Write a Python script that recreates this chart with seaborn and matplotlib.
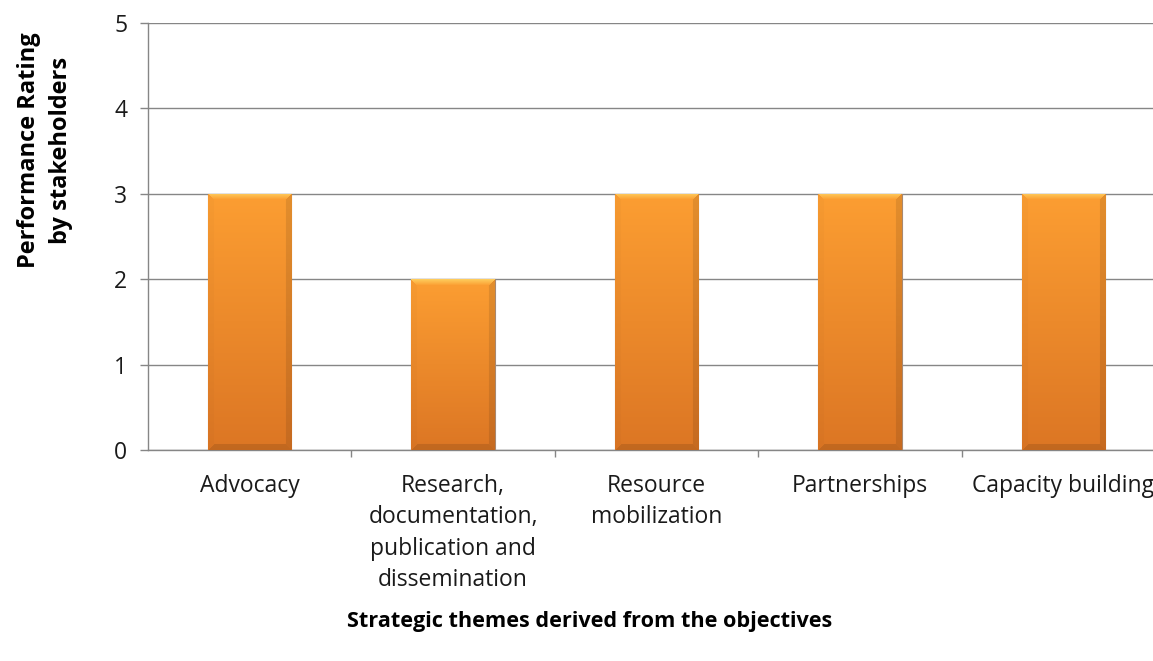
import numpy as np
import pandas as pd
import matplotlib
matplotlib.use("Agg")
import matplotlib.pyplot as plt
import seaborn as sns

themes = ["Advocacy",
          "Research,\ndocumentation,\npublication and\ndissemination",
          "Resource\nmobilization",
          "Partnerships",
          "Capacity building"]
ratings = [3, 2, 3, 3, 3]
y_ticks = [0, 1, 2, 3, 4, 5]
y_title = "Performance Rating\nby stakeholders"
x_title = "Strategic themes derived from the objectives"

sns.set_theme(style="white")
plt.rcParams["font.family"] = ["Open Sans", "DejaVu Sans"]

W, H = 1153, 661
fig = plt.figure(figsize=(W / 100, H / 100), dpi=100)
ax = fig.add_axes([148 / W, 211 / H, 1017 / W, 427 / H])

df = pd.DataFrame({"theme": themes, "rating": ratings})
sns.barplot(data=df, x="theme", y="rating", color="#F7962F", saturation=1,
            width=0.41, edgecolor="#A88870", linewidth=0.8, ax=ax, zorder=3)

ax.set_xlim(-0.5, 4.5)
ax.set_ylim(0, 5)
ax.set_yticks(y_ticks)

# gradient / bevel overlay on each bar
top_c = np.array([252, 158, 50]) / 255
bot_c = np.array([220, 118, 36]) / 255
bevel_top = np.array([255, 218, 105]) / 255
for p in list(ax.patches):
    x0, y0, w, h = p.get_x(), p.get_y(), p.get_width(), p.get_height()
    (px0, py0), (px1, py1) = ax.transData.transform([(x0, y0), (x0 + w, y0 + h)])
    nx, ny = max(int(abs(px1 - px0)), 2), max(int(abs(py1 - py0)), 2)
    t = np.linspace(0, 1, ny)[:, None, None]
    img = (1 - t) * top_c + t * bot_c
    img = np.repeat(img, nx, axis=1)
    ii, jj = np.mgrid[0:ny, 0:nx]
    dt, db, dl, dr = ii, ny - 1 - ii, jj, nx - 1 - jj
    bev = 6
    m = np.minimum(np.minimum(dt, db), np.minimum(dl, dr))
    top_mask = (dt == m) & (dt < bev)
    left_mask = (dl == m) & (dl < bev) & ~top_mask
    right_mask = (dr == m) & (dr < bev) & ~top_mask
    bot_mask = (db == m) & (db < bev) & ~top_mask & ~left_mask & ~right_mask
    k = (1 - dt / bev)[..., None]
    img = np.where(top_mask[..., None], img * (1 - 0.75 * k) + bevel_top * 0.75 * k, img)
    img[left_mask] = img[left_mask] * 0.98
    img[right_mask] = img[right_mask] * 0.9
    img[bot_mask] = img[bot_mask] * 0.88
    im = ax.imshow(np.clip(img, 0, 1), extent=[x0, x0 + w, y0, y0 + h], origin="upper",
                   aspect="auto", interpolation="bilinear", zorder=3.5)
    im.set_clip_path(p)

ax.set_xlim(-0.5, 4.5)
ax.set_ylim(0, 5)

grid_c = "#868686"
ax.yaxis.grid(True, color=grid_c, linewidth=1)
ax.xaxis.grid(False)
ax.set_axisbelow(True)
for s in ["top", "right"]:
    ax.spines[s].set_visible(False)
for s in ["left", "bottom"]:
    ax.spines[s].set_color(grid_c)
    ax.spines[s].set_linewidth(1)

ax.set_xlabel("")
ax.set_ylabel("")
ax.tick_params(axis="y", which="major", direction="out", length=6, width=1,
               color=grid_c, pad=9, labelsize=16.5, labelcolor="#1a1a1a", left=True)
ax.set_xticks(np.arange(len(themes)) + 0.5, minor=True)
ax.set_xticks(np.arange(len(themes)))
ax.set_xticklabels(themes, linespacing=1.42)
ax.tick_params(axis="x", which="major", length=0, pad=17, labelsize=16.5,
               labelcolor="#1a1a1a")
ax.tick_params(axis="x", which="minor", direction="out", length=5, width=1,
               color=grid_c, bottom=True)
for lab in ax.get_xticklabels():
    lab.set_verticalalignment("top")

fig.text(45 / W, 1 - 150 / H, y_title, rotation=90, ha="center", va="center",
         fontsize=17, fontweight="bold", linespacing=1.4, color="#000000")
fig.text(590 / W, 1 - 622 / H, x_title, ha="center", va="center",
         fontsize=15.6, fontweight="bold", color="#000000")

fig.savefig("out.png", dpi=100)
